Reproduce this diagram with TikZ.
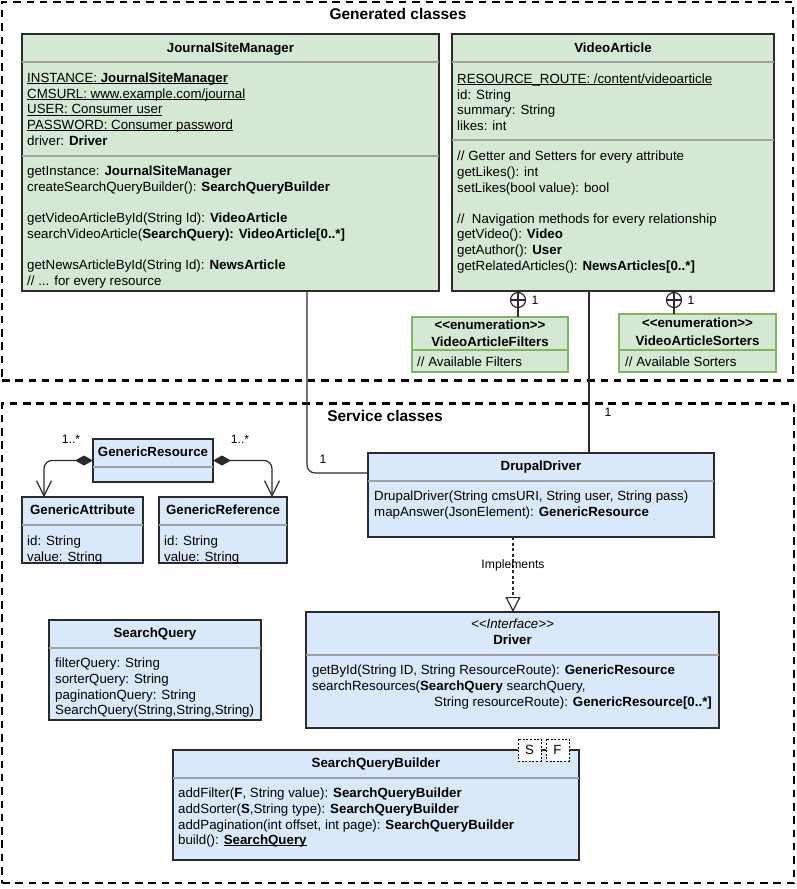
\documentclass[tikz,border=0pt]{standalone}
\usepackage{fontspec}
\setmainfont{Liberation Sans}
\usetikzlibrary{arrows.meta}
\definecolor{bluefill}{HTML}{DAE8FC}
\definecolor{greenfill}{HTML}{D5E8D4}
\definecolor{enumborder}{HTML}{82B366}
\definecolor{sepgray}{HTML}{A0A0A0}
\definecolor{boxborder}{HTML}{2B2B2B}
\newcommand\uln[1]{\setbox0\hbox{#1}\rlap{\rule[-1.6pt]{\wd0}{0.9pt}}\box0}
\newcommand\stl{<\kern0pt<}
\newcommand\stg{>\kern0pt>}
\tikzset{
  boxbase/.style={rectangle, draw=boxborder, line width=1.4pt, anchor=north west, inner sep=0pt, outer sep=0pt},
  bbox/.style={boxbase, fill=bluefill},
  gbox/.style={boxbase, fill=greenfill},
  ebox/.style={boxbase, fill=greenfill, draw=enumborder},
  sepline/.style={draw=sepgray, line width=1.4pt},
  esep/.style={draw=enumborder, line width=1.2pt},
  ttl/.style={anchor=base, inner sep=0pt, font=\fontsize{13.3}{15.6}\selectfont\bfseries},
  ittl/.style={anchor=base, inner sep=0pt, font=\fontsize{13.3}{15.6}\selectfont\itshape},
  bodytext/.style={anchor=north west, inner sep=0pt, font=\fontsize{13.3}{15.6}\selectfont},
  linetext/.style={anchor=base west, inner sep=0pt, font=\fontsize{13.3}{15.6}\selectfont},
  lbl/.style={anchor=base, inner sep=0pt, font=\fontsize{12.2}{14}\selectfont},
  grpframe/.style={rectangle, draw=black, line width=2.5pt, dash pattern=on 7.5pt off 5.8pt, anchor=north west, inner sep=0pt, outer sep=0pt},
  grptitle/.style={anchor=base, inner sep=0pt, font=\fontsize{15.5}{18}\selectfont\bfseries},
  conn/.style={draw=boxborder, line width=1.2pt},
  tparam/.style={rectangle, draw=black, fill=white, line width=1pt, dash pattern=on 2pt off 1.6pt, minimum width=23pt, minimum height=22pt, inner sep=0pt, outer sep=0pt, font=\fontsize{13.3}{15.6}\selectfont},
  nestc/.style={circle, draw=boxborder, fill=white, line width=1.2pt, minimum size=15pt, inner sep=0pt, outer sep=0pt},
}
\begin{document}
\begin{tikzpicture}[x=1pt,y=-1pt]
\useasboundingbox (0,0) rectangle (797,889);
\fill[white] (0,0) rectangle (797,889);

% group frames
\node[grpframe, minimum width=791pt, minimum height=378.5pt] (gen) at (2,2) {};
\node[grptitle] (genT) at (398,19.5) {Generated classes};
\node[grpframe, minimum width=792pt, minimum height=479.5pt] (svc) at (2,403.5) {};
\node[grptitle] (svcT) at (385,421.5) {Service classes};

% helper coordinates for connector positions
\coordinate (jx) at (307,0);
\coordinate (jy) at (0,473);
\coordinate (vx) at (589,0);
\coordinate (ix) at (513,0);
\coordinate (ax) at (44,0);
\coordinate (rx) at (272,0);
\coordinate (fx) at (518,0);
\coordinate (sx) at (674,0);

% ---------- JournalSiteManager ----------
\node[gbox, minimum width=417pt, minimum height=257pt] (jsm) at (22,34) {};
\draw[sepline] ([yshift=-28pt]jsm.north west) -- ([yshift=-28pt]jsm.north east);
\draw[sepline] ([yshift=-122pt]jsm.north west) -- ([yshift=-122pt]jsm.north east);
\node[ttl] (jsmT) at (230.5,52.8) {JournalSiteManager};
\node[bodytext] (jsmA) at (27,71.5) {\begin{tabular}{@{}l@{}}
\uln{INSTANCE: \textbf{JournalSiteManager}}\\
\uln{CMSURL: www.example.com/journal}\\
\uln{USER: Consumer user}\\
\uln{PASSWORD: Consumer password}\\
driver: \textbf{Driver}
\end{tabular}};
\node[bodytext] (jsmM) at (27,164.7) {\begin{tabular}{@{}l@{}}
getInstance: \textbf{JournalSiteManager}\\
createSearchQueryBuilder(): \textbf{SearchQueryBuilder}\\
\\
getVideoArticleById(String Id): \textbf{VideoArticle}\\
searchVideoArticle(\textbf{SearchQuery): VideoArticle[0..*]}\\
\\
getNewsArticleById(String Id): \textbf{NewsArticle}\\
// ... for every resource
\end{tabular}};

% ---------- VideoArticle ----------
\node[gbox, minimum width=322pt, minimum height=257pt] (va) at (452,34) {};
\draw[sepline] ([yshift=-28pt]va.north west) -- ([yshift=-28pt]va.north east);
\draw[sepline] ([yshift=-106pt]va.north west) -- ([yshift=-106pt]va.north east);
\node[ttl] (vaT) at (613,52.8) {VideoArticle};
\node[bodytext] (vaA) at (457,72.5) {\begin{tabular}{@{}l@{}}
\uln{RESOURCE\_ROUTE: /content/videoarticle}\\
id: String\\
summary: String\\
likes: int
\end{tabular}};
\node[bodytext] (vaM) at (457,149.7) {\begin{tabular}{@{}l@{}}
// Getter and Setters for every attribute\\
getLikes(): int\\
setLikes(bool value): bool\\
\\
//\ \ Navigation methods for every relationship\\
getVideo(): \textbf{Video}\\
getAuthor(): \textbf{User}\\
getRelatedArticles(): \textbf{NewsArticles[0..*]}
\end{tabular}};

% ---------- Enumerations ----------
\node[ebox, minimum width=156pt, minimum height=55pt] (filt) at (412,317) {};
\draw[esep] ([yshift=-33pt]filt.north west) -- ([yshift=-33pt]filt.north east);
\node[ttl] (filtS) at (490,329.8) {\stl enumeration\stg};
\node[ttl] (filtT) at (490,346.8) {VideoArticleFilters};
\node[linetext] (filtB) at (417,366.8) {// Available Filters};

\node[ebox, minimum width=157pt, minimum height=58pt] (sort) at (619,314) {};
\draw[esep] ([yshift=-36pt]sort.north west) -- ([yshift=-36pt]sort.north east);
\node[ttl] (sortS) at (697.5,327.8) {\stl enumeration\stg};
\node[ttl] (sortT) at (697.5,345.8) {VideoArticleSorters};
\node[linetext] (sortB) at (625,366.8) {// Available Sorters};

% nesting connectors
\draw[conn] (va.south -| fx) -- (filt.north -| fx);
\node[nestc] (nc1) at (518,300) {};
\draw[conn] (nc1.north) -- (nc1.south);
\draw[conn] (nc1.west) -- (nc1.east);
\node[lbl] (nc1L) at (535,304.4) {1};

\draw[conn] (va.south -| sx) -- (sort.north -| sx);
\node[nestc] (nc2) at (674,300) {};
\draw[conn] (nc2.north) -- (nc2.south);
\draw[conn] (nc2.west) -- (nc2.east);
\node[lbl] (nc2L) at (691,304.4) {1};

% ---------- Generic classes ----------
\node[bbox, minimum width=120pt, minimum height=43pt] (gr) at (93,439) {};
\draw[sepline] ([yshift=-28pt]gr.north west) -- ([yshift=-28pt]gr.north east);
\node[ttl] (grT) at (153,456.8) {GenericResource};

\node[bbox, minimum width=121pt, minimum height=66pt] (ga) at (22,497) {};
\draw[sepline] ([yshift=-28pt]ga.north west) -- ([yshift=-28pt]ga.north east);
\node[ttl] (gaT) at (82.5,514.8) {GenericAttribute};
\node[bodytext] (gaB) at (27,534.7) {\begin{tabular}{@{}l@{}}
id: String\\
value: String
\end{tabular}};

\node[bbox, minimum width=128pt, minimum height=66pt] (gref) at (159,497) {};
\draw[sepline] ([yshift=-28pt]gref.north west) -- ([yshift=-28pt]gref.north east);
\node[ttl] (grefT) at (223,514.8) {GenericReference};
\node[bodytext] (grefB) at (164,534.7) {\begin{tabular}{@{}l@{}}
id: String\\
value: String
\end{tabular}};

\draw[conn, rounded corners=8pt, {Diamond[length=18pt,width=10pt]}-{Straight Barb[length=15pt,width=15pt]}] (gr.west) -| (ga.north -| ax);
\draw[conn, rounded corners=8pt, {Diamond[length=18pt,width=10pt]}-{Straight Barb[length=15pt,width=15pt]}] (gr.east) -| (gref.north -| rx);
\node[lbl] (m1) at (71,443.4) {1..*};
\node[lbl] (m2) at (240,443.4) {1..*};

% ---------- DrupalDriver ----------
\node[bbox, minimum width=346pt, minimum height=84pt] (dd) at (368,453) {};
\draw[sepline] ([yshift=-28pt]dd.north west) -- ([yshift=-28pt]dd.north east);
\node[ttl] (ddT) at (541,470.8) {DrupalDriver};
\node[bodytext] (ddB) at (374,489.7) {\begin{tabular}{@{}l@{}}
DrupalDriver(String cmsURI, String user, String pass)\\
mapAnswer(JsonElement): \textbf{GenericResource}
\end{tabular}};

% ---------- Driver ----------
\node[bbox, minimum width=413pt, minimum height=116pt] (drv) at (306,612) {};
\draw[sepline] ([yshift=-43pt]drv.north west) -- ([yshift=-43pt]drv.north east);
\node[ittl] (drvS) at (512.5,628.8) {\stl Interface\stg};
\node[ttl] (drvT) at (512.5,644.8) {Driver};
\node[bodytext] (drvB) at (312,663.7) {\begin{tabular}{@{}l@{}}
getById(String ID, String ResourceRoute): \textbf{GenericResource}\\
searchResources(\textbf{SearchQuery} searchQuery,\\
\hspace*{122pt}String resourceRoute): \textbf{GenericResource[0..*]}
\end{tabular}};

% ---------- SearchQuery ----------
\node[bbox, minimum width=212pt, minimum height=100pt] (sq) at (49,620) {};
\draw[sepline] ([yshift=-28pt]sq.north west) -- ([yshift=-28pt]sq.north east);
\node[ttl] (sqT) at (155,637.8) {SearchQuery};
\node[bodytext] (sqB) at (55,656.7) {\begin{tabular}{@{}l@{}}
filterQuery: String\\
sorterQuery: String\\
paginationQuery: String\\
SearchQuery(String,String,String)
\end{tabular}};

% ---------- SearchQueryBuilder ----------
\node[bbox, minimum width=406pt, minimum height=110pt] (sqb) at (173,750) {};
\draw[sepline] ([yshift=-28pt]sqb.north west) -- ([yshift=-28pt]sqb.north east);
\node[ttl] (sqbT) at (376,767.8) {SearchQueryBuilder};
\node[bodytext] (sqbB) at (178,786.7) {\begin{tabular}{@{}l@{}}
addFilter(\textbf{F}, String value): \textbf{SearchQueryBuilder}\\
addSorter(\textbf{S},String type): \textbf{SearchQueryBuilder}\\
addPagination(int offset, int page): \textbf{SearchQueryBuilder}\\
build(): \textbf{\uln{SearchQuery}}
\end{tabular}};
\node[tparam] (tpS) at (529.5,750) {S};
\node[tparam] (tpF) at (557.5,750) {F};

% ---------- connectors ----------
\draw[conn, rounded corners=8pt] (jsm.south -| jx) |- (dd.west |- jy);
\node[lbl] (m3) at (323,463.4) {1};
\draw[conn] (va.south -| vx) -- (dd.north -| vx);
\node[lbl] (m4) at (608,416.4) {1};
\draw[conn, dash pattern=on 3pt off 2.5pt, -{Triangle[open,length=15pt,width=15pt]}] (dd.south -| ix) -- (drv.north -| ix);
\node[lbl] (impl) at (513,568.4) {Implements};
\end{tikzpicture}
\end{document}
